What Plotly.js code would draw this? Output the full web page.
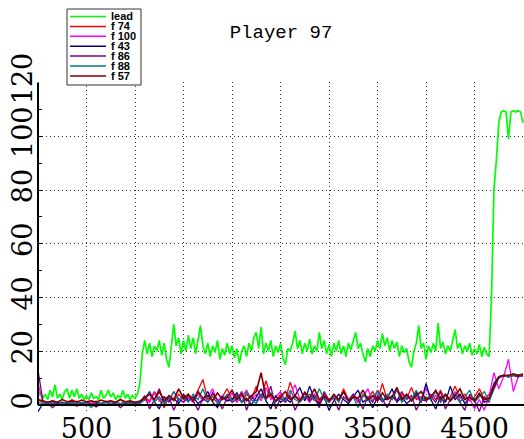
<!DOCTYPE html>
<html>
<head>
<meta charset="utf-8">
<script src="https://cdn.plot.ly/plotly-3.0.1.min.js"></script>
<style>
  html, body { margin: 0; padding: 0; background: #ffffff; }
  #chart { width: 524px; height: 439px; }
</style>
</head>
<body>
<div id="chart"></div>
<script>
// Series names and colours (drawing order: lead first, f 57 on top)
const seriesNames  = ['lead', 'f 74', 'f 100', 'f 43', 'f 86', 'f 88', 'f 57'];
const seriesColors = ['#00ff00', '#ff0000', '#ff00ff', '#000080', '#800080', '#008080', '#800000'];

// Sample spacing of the recorded series (x units)
const LEAD_STEP = 25;
const FOLLOW_STEP = 50;

// lead: one value every 25 units, 0 .. 5000
const lead = [
  3, 5, 2.5, 4, 2, 5.5, 3, 7.5, 2.5, 4, 2, 5, 6, 2.5, 5.5, 3, 6, 2.5, 4, 2,
  3.5, 2, 4.5, 2.5, 3, 2, 5.5, 2.5, 3.5, 5.5, 3, 4.5, 2, 3.5, 2.5, 5.5, 2.5, 4, 2, 3.5,
  2.5, 4, 8, 19, 24, 19, 23, 18, 22, 20, 24, 18.5, 23, 17, 14, 21, 30, 22, 25, 19,
  24, 20, 26, 21, 25, 19, 24, 29.5, 22, 19, 23, 18, 22, 19.5, 24, 17, 21, 18.5, 23, 19,
  22, 17.5, 21, 15.5, 20, 22, 18, 23, 20, 25, 27, 21, 29, 19, 23, 20, 24, 18, 22, 19.5,
  23, 17.5, 15, 21, 20, 23, 27.5, 21, 24, 19, 23, 20, 24.5, 19, 22, 20, 27, 21, 24, 19,
  22.5, 18, 23, 20, 24, 19, 22, 18, 23, 20.5, 24, 27, 21, 23, 19, 16, 21, 18, 22, 20,
  24, 21, 26.5, 22, 25, 20, 24, 21, 23.5, 18, 22, 19.5, 21, 16, 14, 20, 23, 29.5, 21, 23,
  17, 22, 19.5, 23, 20, 30.5, 21, 23.5, 19, 22, 20, 24, 28, 21, 23, 19, 22, 20, 23, 18.5,
  21, 19, 22.5, 18, 21.5, 19, 18, 40, 80, 91, 105, 109, 109.5, 109, 99, 109, 109.5, 109, 109.5, 109,
  105
];

// followers: one value every 50 units, 0 .. 5000
const f74 = [
  2, 1, 0.5, 1.5, 0.5, 1, 0.5, 2, 1, 0.5, 1, 0.5, 1.5, 0.5, 1, 0.5, 1, 2, 0.5, 1, 0.5,
  1, 3, 1.5, 5, 2, -1, 3, 1.5, 4, 2,
  3, 1.5, 5.5, 9.5, 2, 4, 1.5, 3, 6, 2,
  3.5, 1, 4, 2, 7, 2.5, 9, 3, 1.5, 4,
  2, 8.5, 3, 1.5, 5, 2, 3.5, 1, 4.5, 2,
  3, 1.5, 6, 2, 3.5, 1, 4, 2.5, 5, 1.5,
  8, 2, 3.5, 1.5, 4, 2.5, 6.5, 2, 3, 1.5,
  4, 2, 5.5, 1.5, 3, 7, 2.5, 4, 1.5, 3,
  6, 2, 4, 7.5, 10.5, 11, 10.5, 11.5, 11, 11
];
const f100 = [
  8, 1, 0.5, 1, 0.5, 0.5, 1, 0.5, 1.5, 0.5, 1, 0.5, 1, 0.5, 1.5, 0.5, 1, 0.5, 1, 0.5, 1,
  0.5, 2, 1, 4.5, 1.5, 3, 1, 5, 2, 1,
  2.5, 1, 4, 1.5, 3, 6, 1, 3.5, 1.5, 4.5,
  1, 3, 5.5, 2, 4, 1.5, 6.5, 2, 3, 5,
  1.5, 4, 7.5, 2, 3, 1, 4, 2, 3.5, 1,
  3, 1.5, 5, 2, 4, 1, 3, 6, 1.5, 3.5,
  1, 3.5, 2, 5.5, 1.5, 4, 2, 3, 1, 6.5,
  2, 3.5, 1, 4, 2, 5, 1.5, 3, 2.5, -1.5,
  2, -2, 3, 12, 6, 10.5, 17, 5, 10.5, 11
];
const f43 = [
  -2.5, 0.5, 0, 0.5, 0.3, 0, 0.5, 0.2, 0, 0.5, 0.3, 0, 0.5, 0.2, 0, 0.5, 0.3, 0, 0.5, 0.2, 0.5,
  1, 2, 5, 1, -1.5, 3, 1.5, 2.5, 0.5, 4,
  1.5, 3, 0.5, 2, 5, 1, -1, 3, 1.5, 2,
  4.5, 1, 2.5, 0, 3, 6, 1.5, -1.5, 3.5, 1,
  2.5, 1, 3.5, 6.5, 1.5, 7, 2, 0.5, 3, -2,
  1.5, 4, 2, 0.5, 3, 5.5, 1, 2.5, -1, 3,
  1.5, 2.5, 6, 1, 3, 0.5, 2, 4.5, 1, 8,
  2, -1.5, 3, 1, 7, 2, 4, 0.5, 3, 1.5,
  4.5, 1, 2, 8, 10.5, 11, 10.5, 11, 10.5, 11
];
const f86 = [
  13, 1.5, 0.5, -1, 0.5, 1, 0.3, 0.8, -0.5, 0.5, 1, 0.3, -0.8, 0.5, 1, 0.3, 0.5, -1, 0.5, 0.8, 0.3,
  1, 3.5, -1.5, 2, 6, 1, 3, -2, 2.5, 1,
  4, 1.5, -2, 2.5, 1, 4.5, 2, -1.5, 3, 1,
  2, 5, -2, 3, 1.5, 4, 2, 7, -1.5, 2.5,
  1, 3.5, -2, 2, 4.5, 1.5, 3, -1, 5, 1.5,
  2.5, -2, 3, 1.5, 4, 2, -1.5, 3, 1, 5.5,
  2, -1, 3, 1.5, 5, 2, 3.5, -2, 2, 1.5,
  3, 1, 5, -1.5, 2, 3.5, 1, -2, 4, 2,
  -2.5, 3, 1, 7, 10, 11, 10.5, 11, 10.5, 11
];
const f88 = [
  1, 0.5, 1, 0.5, 1, 0.5, 1, 0.8, 0.5, 1, 0.5, -1, 1, 0.5, 1, 0.5, 1, 0.5, 1, 0.5, 1,
  0.5, 2, 4.5, 1, 3, 0.5, 2, 5, 1.5, 3,
  1, 4, 2, 6, 1, 3, 0.5, 2, 4, 1.5,
  3, 1, 5, 2, 0.5, 3.5, 2, 4.5, 1, 3,
  1.5, 5.5, 2, 1, 3, 4, 1.5, 6, 2, 1,
  3.5, 1, 5, 2, 3, -1, 4, 1.5, 3, 5,
  1.5, 4, 2, 6, 1, 3, 2, 5.5, 1.5, 3,
  2, 5, 1, 3.5, 2, 4, 1, 3, 5.5, 1,
  3, 5, 1.5, 6, 10, 11, 10.5, 11, 11, 10.5
];
const f57 = [
  2, 1.5, 1, 1.5, 1, 2, 1.2, 1.5, 1, 1.8, 1.2, 1.5, 1, 1.8, 1.2, 1.5, 1, 2, 1.2, 1.5, 1,
  1.5, 2.5, 4, 2, 5, 1.5, 3.5, 2, 6, 2.5,
  4, 1.5, 5, 2.5, 3.5, 1.5, 4.5, 2, 3, 5.5,
  2, 4, 1.5, 3.5, 5, 12, 2.5, 4, 1.5, 3,
  5, 2, 3.5, 1.5, 4.5, 2.5, 6, 2, 3.5, 1.5,
  4, 2, 5, 1.5, 3, 2.5, 5.5, 2, 3.5, 1.5,
  4.5, 2, 3, 6.5, 2, 4, 1.5, 3.5, 5, 2,
  3, 5.5, 2, 4, 1.5, 3.5, 6, 2, 3, 1.5,
  4, 2, 2.5, 6.5, 10.5, 11, 11, 11.5, 11, 11.5
];

// Axis ticks
const xTickVals = [500, 1000, 1500, 2000, 2500, 3000, 3500, 4000, 4500, 5000];
const xTickText = ['500', '', '1500', '', '2500', '', '3500', '', '4500', ''];
const yTickVals = [0, 20, 40, 60, 80, 100, 120];
const yTickText = ['0', '20', '40', '60', '80', '100', '120'];

const chartTitle = 'Player 97';

// ---- geometry ----
const W = 524, H = 439;
const M = { l: 38, r: 0, t: 82, b: 26 };
const plotW = W - M.l - M.r, plotH = H - M.t - M.b;
const X_RANGE = [0, 5010];
const Y_RANGE = [-3, 120.2];
const yFrac = v => (v - Y_RANGE[0]) / (Y_RANGE[1] - Y_RANGE[0]);
// pixel -> paper coordinates (for the legend box drawn above the plot)
const pxX = px => (px - M.l) / plotW;
const pxY = py => (M.t + plotH - py) / plotH;

const seriesValues = [lead, f74, f100, f43, f86, f88, f57];
const seriesSteps  = [LEAD_STEP, FOLLOW_STEP, FOLLOW_STEP, FOLLOW_STEP, FOLLOW_STEP, FOLLOW_STEP, FOLLOW_STEP];
const seriesWidths = [1.7, 1.3, 1.3, 1.3, 1.3, 1.3, 1.6];

const traces = seriesValues.map((vals, k) => ({
  type: 'scatter',
  mode: 'lines',
  name: seriesNames[k],
  x: vals.map((_, i) => i * seriesSteps[k]),
  y: vals,
  line: { color: seriesColors[k], width: seriesWidths[k] },
  hoverinfo: 'skip',
  showlegend: false
}));

// ---- hand-built legend box ----
const legendBox = { x0: 67, x1: 141, y0: 9, y1: 85 };
const rowTop = 16.5, rowGap = 9.9;
const shapes = [{
  type: 'rect', xref: 'paper', yref: 'paper', layer: 'above',
  x0: pxX(legendBox.x0), x1: pxX(legendBox.x1),
  y0: pxY(legendBox.y1), y1: pxY(legendBox.y0),
  fillcolor: '#ffffff', line: { color: '#333333', width: 1 }
}];
const annotations = [];
seriesNames.forEach((name, k) => {
  const cy = rowTop + k * rowGap;
  shapes.push({
    type: 'line', xref: 'paper', yref: 'paper', layer: 'above',
    x0: pxX(70), x1: pxX(106), y0: pxY(cy), y1: pxY(cy),
    line: { color: seriesColors[k], width: 1.5 }
  });
  annotations.push({
    xref: 'paper', yref: 'paper', x: pxX(109), y: pxY(cy),
    xanchor: 'left', yanchor: 'middle', showarrow: false,
    text: name,
    font: { family: 'Liberation Sans, Arial, sans-serif', size: 11, color: '#000000', weight: 'bold' }
  });
});

// left axis line, from 0 up to 120
shapes.push({
  type: 'line', xref: 'paper', yref: 'paper', layer: 'above',
  x0: 0, x1: 0, y0: yFrac(0), y1: yFrac(120),
  line: { color: '#000000', width: 2 }
});

const tickFont = { family: 'DejaVu Serif, serif', size: 27, color: '#000000' };
const gridStyle = { showgrid: true, gridcolor: '#333333', gridwidth: 1, griddash: '1px,3px' };

const layout = {
  width: W, height: H,
  margin: M,
  paper_bgcolor: '#ffffff',
  plot_bgcolor: '#ffffff',
  showlegend: false,
  title: {
    text: chartTitle,
    font: { family: 'Liberation Mono, Courier New, monospace', size: 19, color: '#000000' },
    x: 0.5, xref: 'paper', xanchor: 'center',
    y: 1 - 31 / H, yref: 'container', yanchor: 'middle'
  },
  xaxis: Object.assign({
    range: X_RANGE,
    tickmode: 'array', tickvals: xTickVals, ticktext: xTickText,
    ticks: '', tickfont: tickFont,
    zeroline: false,
    showline: true, linecolor: '#000000', linewidth: 2,
    anchor: 'free', position: yFrac(0),
    layer: 'above traces',
    automargin: false, fixedrange: true
  }, gridStyle),
  yaxis: Object.assign({
    range: Y_RANGE,
    tickmode: 'array', tickvals: yTickVals, ticktext: yTickText,
    tickangle: -90,
    tickfont: tickFont,
    ticks: 'inside', ticklen: 4, tickcolor: '#000000',
    minor: { dtick: 10, tick0: 0, ticks: 'inside', ticklen: 4, tickcolor: '#000000', showgrid: false },
    zeroline: false, showline: false,
    layer: 'above traces',
    automargin: false, fixedrange: true
  }, gridStyle),
  shapes: shapes
};
layout.annotations = annotations;

Plotly.newPlot('chart', traces, layout, { staticPlot: true, displayModeBar: false });
</script>
</body>
</html>
